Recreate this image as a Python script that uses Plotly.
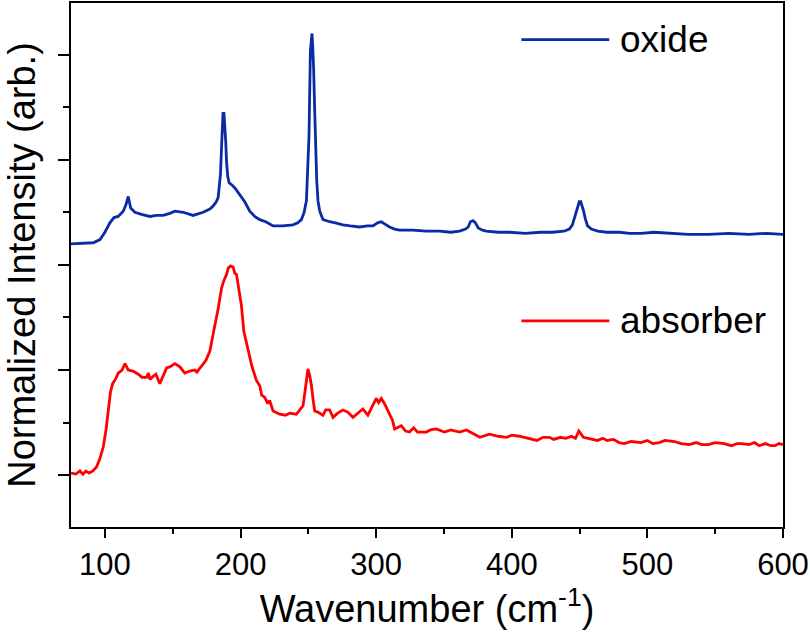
import plotly.graph_objects as go

# ---- data ----
oxide_x = [75, 91.4, 96.4, 100, 103.7, 106.7, 109.8, 113.5, 115.5, 117.2, 119, 122.1, 127, 133.2, 138, 143,
           147.9, 151.6, 157.7, 165.1, 172.4, 177.4, 179.8, 182.1, 183.5, 185.2, 186.4, 187.1, 187.8, 188.4,
           189.1, 189.7, 190.6, 191.6, 194.5, 196.5, 199.4, 203.1, 206.8, 210.5, 214.2, 218.6, 224, 231.1,
           238.7, 242.2, 244.9, 246.9, 248.6, 249.5, 250.5, 251.5, 252.1, 252.7, 253.2, 253.9, 254.7, 255.4,
           256.2, 257.1, 258.4, 260.8, 265.7, 270, 275.5, 281, 287.8, 293.7, 297.6, 301.1, 303.8, 306.2,
           309.9, 313.6, 317.3, 327, 336.9, 346.7, 355, 361.5, 365.9, 367.9, 369.5, 371.5, 373.2, 375.3,
           378.4, 381.3, 390, 398.3, 410, 421.1, 430, 438.5, 442.5, 444.7, 446.5, 448.5, 449.8, 450.9, 452,
           453, 454.2, 455.9, 458.7, 463.4, 470, 479.3, 487, 495.7, 505, 519.8, 530, 545.3, 560, 575, 588, 600]
oxide_y = [2.20, 2.21, 2.24, 2.31, 2.40, 2.45, 2.46, 2.51, 2.57, 2.65, 2.54, 2.50, 2.48, 2.46, 2.47, 2.47,
           2.49, 2.51, 2.50, 2.47, 2.50, 2.53, 2.56, 2.60, 2.64, 2.86, 3.24, 3.44, 3.44, 3.33,
           3.17, 2.98, 2.84, 2.78, 2.75, 2.72, 2.67, 2.60, 2.51, 2.46, 2.43, 2.41, 2.37, 2.37,
           2.38, 2.40, 2.43, 2.50, 2.61, 2.89, 3.23, 4.03, 4.17, 4.20, 4.08, 3.87, 3.46, 3.08,
           2.80, 2.61, 2.51, 2.43, 2.41, 2.40, 2.38, 2.37, 2.36, 2.37, 2.37, 2.40, 2.41, 2.39,
           2.36, 2.34, 2.33, 2.33, 2.32, 2.32, 2.31, 2.32, 2.34, 2.36, 2.41, 2.42, 2.40, 2.35,
           2.33, 2.32, 2.31, 2.31, 2.30, 2.31, 2.31, 2.32, 2.34, 2.38, 2.46, 2.54, 2.60, 2.60, 2.56,
           2.51, 2.44, 2.37, 2.34, 2.32, 2.31, 2.31, 2.30, 2.30, 2.31, 2.30, 2.29, 2.29, 2.30, 2.29, 2.30, 2.29]

absorber_x = [75, 78.7, 81.6, 83.8, 86, 88.3, 91.2, 93.9, 96.4, 98.8, 100.8, 102.5, 104.1, 105.7, 108.1,
              109.8, 112.6, 114.8, 117.2, 120.7, 124.6, 127.3, 130.7, 132.1, 133.2, 135.6, 137.6, 140.5,
              142.7, 145.5, 147.9, 151.6, 155.3, 158.9, 162.6, 166.3, 167.8, 171.2, 174.4, 177.4, 179.6,
              181, 183.2, 186, 187.7, 189.7, 191, 192.6, 194.5, 195.8, 197, 198.7, 200.7, 202.4, 205.6,
              208.3, 211.7, 214.2, 215.6, 217.9, 220.1, 221.5, 224, 228.9, 233.3, 236.3, 241.2, 243.6,
              246.1, 247.7, 249.7, 251, 252.2, 253.6, 254.7, 256.9, 260.8, 262.8, 265.7, 268.2, 271.6,
              275.5, 279, 282.9, 286.3, 290.2, 293.9, 296.6, 300.1, 301.8, 303.8, 306.2, 309.9, 312.1,
              313.6, 318.5, 321.7, 324.6, 327.6, 330.5, 336.9, 340, 344.3, 350.4, 355, 361.5, 366.6,
              372.5, 376.5, 383.5, 390, 396.1, 400, 405.6, 412, 418.5, 423, 427.7, 431, 435.8, 440, 444,
              447, 449.5, 452.8, 455.7, 460, 463.1, 467, 470.4, 475, 479, 483, 488, 495.3, 500, 504,
              508.7, 513, 520.1, 525, 530.8, 536, 540, 544.8, 550, 556.6, 562, 566, 569.6, 575, 579,
              582.4, 587, 591, 594.2, 597, 600]
absorber_y = [0.02, 0.01, 0.04, 0.01, 0.04, 0.02, 0.04, 0.08, 0.16, 0.27, 0.43, 0.64, 0.79, 0.87, 0.92,
              0.97, 1.00, 1.06, 1.00, 0.99, 0.96, 0.93, 0.93, 0.97, 0.91, 0.94, 0.96, 0.87,
              0.93, 1.02, 1.03, 1.06, 1.03, 0.97, 0.99, 1.00, 0.98, 1.04, 1.09, 1.18, 1.31,
              1.42, 1.56, 1.78, 1.85, 1.91, 1.97, 1.99, 1.98, 1.92, 1.91, 1.75, 1.61, 1.37, 1.18,
              1.04, 0.90, 0.85, 0.76, 0.74, 0.68, 0.71, 0.61, 0.58, 0.57, 0.59, 0.58, 0.62,
              0.66, 0.81, 1.01, 0.95, 0.86, 0.71, 0.61, 0.60, 0.57, 0.62, 0.62, 0.55, 0.59,
              0.62, 0.60, 0.55, 0.59, 0.63, 0.57, 0.64, 0.73, 0.69, 0.73, 0.68, 0.58, 0.52,
              0.44, 0.47, 0.42, 0.41, 0.45, 0.41, 0.41, 0.43, 0.44, 0.41, 0.43, 0.41, 0.43,
              0.39, 0.36, 0.39, 0.37, 0.36, 0.38, 0.37, 0.35, 0.33, 0.36, 0.36, 0.34, 0.36, 0.35, 0.37,
              0.35, 0.42, 0.36, 0.35, 0.34, 0.33, 0.35, 0.33, 0.34, 0.31, 0.30, 0.32, 0.31, 0.33, 0.30,
              0.31, 0.33, 0.32, 0.30, 0.29, 0.31, 0.29, 0.29, 0.31, 0.30, 0.28, 0.30, 0.30, 0.29, 0.31,
              0.28, 0.30, 0.28, 0.28, 0.30, 0.29]

series_names = ["oxide", "absorber"]
series_colors = ["#0a2aa6", "#ff0000"]
x_ticks = [100, 200, 300, 400, 500, 600]

FONT = "Arial, 'Liberation Sans', sans-serif"

fig = go.Figure()
fig.add_trace(go.Scatter(x=oxide_x, y=oxide_y, mode="lines", name=series_names[0],
                         line=dict(color=series_colors[0], width=2.8), showlegend=False))
fig.add_trace(go.Scatter(x=absorber_x, y=absorber_y, mode="lines", name=series_names[1],
                         line=dict(color=series_colors[1], width=2.8), showlegend=False))

# legend drawn as line samples + labels
legend_y = [0.930, 0.3935]
for name, col, ly in zip(series_names, series_colors, legend_y):
    fig.add_shape(type="line", xref="paper", yref="paper", x0=0.6325, x1=0.756, y0=ly, y1=ly,
                  line=dict(color=col, width=2.8))
    fig.add_annotation(text=name, xref="paper", yref="paper", x=0.768, y=ly, xanchor="left",
                       yanchor="middle", showarrow=False, font=dict(family=FONT, size=37, color="black"))

fig.update_layout(
    width=810, height=641,
    margin=dict(l=71, r=26, t=1, b=114),
    paper_bgcolor="white", plot_bgcolor="white",
    font=dict(family=FONT, color="black"),
)
fig.update_xaxes(
    range=[75, 600], tickvals=x_ticks, ticks="outside", ticklen=9, tickwidth=2, tickcolor="black",
    showline=True, linecolor="black", linewidth=2, mirror=True, showgrid=False, zeroline=False,
    tickfont=dict(family=FONT, size=31, color="black"),
    minor=dict(ticks="outside", ticklen=5, tickwidth=2, tickcolor="black", dtick=50, tick0=0, showgrid=False),
    title=dict(text="Wavenumber (cm<sup>-1</sup>)", font=dict(family=FONT, size=38, color="black"), standoff=13),
)
fig.update_yaxes(
    range=[-0.493, 4.49], tick0=0, dtick=1, ticks="outside", ticklen=11, tickwidth=2, tickcolor="black",
    showticklabels=False, showline=True, linecolor="black", linewidth=2, mirror=True, showgrid=False,
    zeroline=False,
    minor=dict(ticks="outside", ticklen=6, tickwidth=2, tickcolor="black", dtick=0.5, tick0=0, showgrid=False),
    title=dict(text="Normalized Intensity (arb.)", font=dict(family=FONT, size=38, color="black"), standoff=11),
)

fig.write_html("out.html")
